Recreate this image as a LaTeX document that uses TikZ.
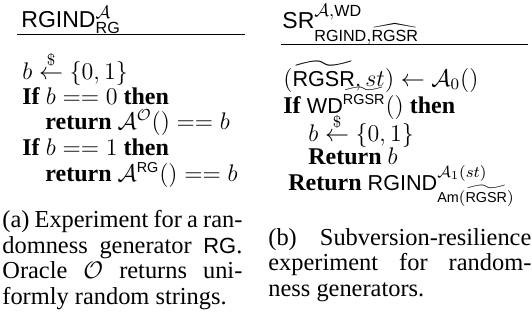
\documentclass[tikz,border=0pt]{standalone}
\usepackage{amsmath,amssymb}
\usepackage{fontspec}
\setmainfont{Liberation Serif}
\setsansfont[Scale=0.9]{Liberation Sans}
\usetikzlibrary{positioning}
\newcommand{\alg}[1]{\textsf{#1}}
\newcommand{\sampleto}{\stackrel{\$}{\leftarrow}}

\begin{document}
\begin{tikzpicture}[x=0.5pt, y=-0.5pt,
    codeline/.style={anchor=base west, inner sep=0,
      font=\fontsize{12}{12.75}\selectfont},
    titleline/.style={anchor=base west, inner sep=0,
      font=\fontsize{12.8}{14}\selectfont},
    caption/.style={anchor=north west, inner sep=0, align=justify,
      font=\fontsize{12.2}{12.75}\selectfont},
    rule/.style={line width=0.5pt}]
  \useasboundingbox (0,0) rectangle (532,333);

  % (a) randomness generator experiment
  \node[titleline] (atitle) at (21,27) {\alg{RGIND}$^{\mathcal{A}}_{\alg{RG}}$};
  \coordinate (arule0) at (17,34);
  \coordinate (arule1) at (245,34);
  \draw[rule] (arule0) -- (arule1);
  \node[codeline] (a1) at (22,79) {$b \sampleto \{0,1\}$};
  \node[codeline] (a2) at (22,104) {\textbf{If} $b == 0$ \textbf{then}};
  \node[codeline] (a3) at (45,129) {\textbf{return} $\mathcal{A}^{\mathcal{O}}() == b$};
  \node[codeline] (a4) at (22,155) {\textbf{If} $b == 1$ \textbf{then}};
  \node[codeline] (a5) at (45,181) {\textbf{return} $\mathcal{A}^{\alg{RG}}() == b$};
  \node[caption, text width=120pt] (acap) at (2,210)
    {(a) Experiment for a ran-\linebreak domness generator \alg{RG}.\linebreak
     Oracle $\mathcal{O}$ returns uni-\linebreak formly random strings.};

  % (b) subversion-resilience experiment
  \node[titleline] (btitle) at (282,28)
    {\alg{SR}$^{\mathcal{A},\alg{WD}}_{\alg{RGIND},\widehat{\alg{RGSR}}}$};
  \coordinate (brule0) at (281,44);
  \coordinate (brule1) at (528,44);
  \draw[rule] (brule0) -- (brule1);
  \node[codeline] (b1) at (283,86) {$(\widetilde{\alg{RGSR}}, st) \leftarrow \mathcal{A}_0()$};
  \node[codeline] (b2) at (283,113) {\textbf{If} \alg{WD}$^{\widetilde{\alg{RGSR}}}()$ \textbf{then}};
  \node[codeline] (b3) at (308,141) {$b \sampleto \{0,1\}$};
  \node[codeline] (b4) at (308,164) {\textbf{Return} $b$};
  \node[codeline] (b5) at (288,190)
    {\textbf{Return} \alg{RGIND}$^{\mathcal{A}_1(st)}_{\alg{Am}(\widetilde{\alg{RGSR}})}$};
  \node[caption, text width=131.5pt] (bcap) at (268,228)
    {(b) Subversion-resilience\linebreak experiment for random-\linebreak
     ness generators.};
\end{tikzpicture}
\end{document}
